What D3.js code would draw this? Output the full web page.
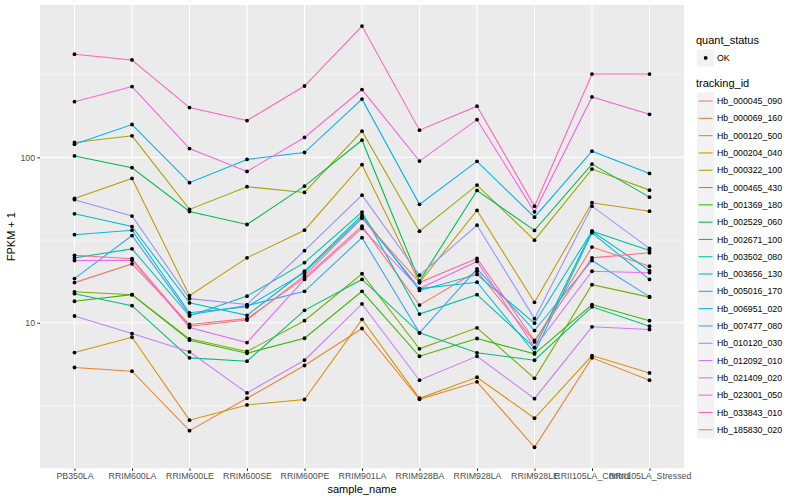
<!DOCTYPE html>
<html lang="en">
<head>
<meta charset="UTF-8">
<title>FPKM by sample</title>
<script src="https://d3js.org/d3.v7.min.js"></script>
<style>
    body { margin: 0; background: #fff; }
    svg text { font-family: "Liberation Sans", Arial, sans-serif; }
    .axis text { fill: #4d4d4d; font-size: 8.8px; }
    .axis line { stroke: #333; stroke-width: 1; }
    .axis path { display: none; }
</style>
</head>
<body>
<svg id="chart" width="800" height="500"></svg>
<script>
// samples on the x axis
const samples = ["PB350LA", "RRIM600LA", "RRIM600LE", "RRIM600SE", "RRIM600PE", "RRIM901LA",
                 "RRIM928BA", "RRIM928LA", "RRIM928LE", "RRII105LA_Control", "RRII105LA_Stressed"];

const trackingIds = ["Hb_000045_090", "Hb_000069_160", "Hb_000120_500", "Hb_000204_040", "Hb_000322_100",
                     "Hb_000465_430", "Hb_001369_180", "Hb_002529_060", "Hb_002671_100", "Hb_003502_080",
                     "Hb_003656_130", "Hb_005016_170", "Hb_006951_020", "Hb_007477_080", "Hb_010120_030",
                     "Hb_012092_010", "Hb_021409_020", "Hb_023001_050", "Hb_033843_010", "Hb_185830_020"];

// FPKM + 1, one value per sample
const hb000045_090 = [17.5, 22.7, 9.77, 10.6, 18.7, 38.4, 12.8, 20.5, 7.67, 28.7, 22.0];
const hb000069_160 = [5.37, 5.10, 2.23, 3.50, 5.52, 9.24, 3.45, 4.40, 1.77, 6.14, 4.50];
const hb000120_500 = [6.61, 8.18, 2.58, 3.19, 3.44, 10.5, 3.50, 4.69, 2.65, 6.34, 4.98];
const hb000204_040 = [56.5, 74.6, 14.6, 24.7, 36.3, 90.3, 17.5, 47.8, 13.3, 53.2, 47.3];
const hb000322_100 = [123, 135, 48.5, 66.5, 61.4, 144, 35.8, 68.0, 31.6, 85.0, 63.4];
const hb000465_430 = [15.4, 14.8, 8.0, 6.71, 10.3, 19.8, 6.96, 9.33, 4.62, 17.0, 14.3];
const hb001369_180 = [13.5, 14.8, 7.85, 6.55, 8.07, 15.5, 6.28, 8.04, 6.49, 12.9, 10.3];
const hb002529_060 = [102, 86.6, 47.1, 39.3, 67.0, 127, 17.9, 63.1, 36.2, 91.1, 57.5];
const hb002671_100 = [15.0, 12.7, 6.14, 5.86, 11.9, 18.3, 8.70, 6.59, 5.94, 12.5, 9.54];
const hb003502_080 = [24.7, 28.0, 11.0, 14.5, 23.1, 46.7, 11.3, 14.8, 7.09, 35.8, 27.4];
const hb003656_130 = [45.6, 38.2, 13.2, 11.1, 20.5, 44.8, 15.7, 19.6, 9.95, 35.8, 20.7];
const hb005016_170 = [34.1, 36.3, 11.5, 12.5, 20.1, 43.5, 16.1, 17.6, 6.59, 35.0, 18.3];
const hb006951_020 = [120, 158, 70.3, 97.2, 107, 225, 52.0, 94.6, 43.5, 109, 80.0];
const hb007477_080 = [18.5, 33.7, 11.2, 12.7, 15.5, 32.7, 8.70, 21.2, 8.98, 23.8, 14.4];
const hb010120_030 = [55.5, 44.2, 14.0, 12.9, 27.3, 59.1, 19.4, 38.9, 10.6, 50.7, 28.2];
const hb012092_010 = [11.0, 8.61, 6.68, 3.77, 5.94, 13.0, 4.50, 6.28, 3.48, 9.46, 9.11];
const hb021409_020 = [23.8, 23.9, 9.37, 7.60, 18.3, 37.2, 16.1, 23.5, 7.09, 20.5, 20.1];
const hb023001_050 = [217, 268, 113, 82.3, 132, 257, 95.0, 169, 46.9, 232, 182];
const hb033843_010 = [420, 388, 200, 167, 270, 622, 146, 204, 50.7, 319, 319];
const hb185830_020 = [25.6, 24.4, 9.54, 10.4, 19.3, 42.8, 17.5, 24.5, 7.82, 24.7, 26.5];

const seriesValues = [hb000045_090, hb000069_160, hb000120_500, hb000204_040, hb000322_100,
                      hb000465_430, hb001369_180, hb002529_060, hb002671_100, hb003502_080,
                      hb003656_130, hb005016_170, hb006951_020, hb007477_080, hb010120_030,
                      hb012092_010, hb021409_020, hb023001_050, hb033843_010, hb185830_020];

const yTicks = [10, 100];

// ggplot default hue palette for 20 levels
const palette = ["#F8766D", "#EA8331", "#D89000", "#C09B00", "#A3A500", "#7CAE00", "#39B600", "#00BB4E",
                 "#00BF7D", "#00C1A3", "#00BFC4", "#00BAE0", "#00B0F6", "#35A2FF", "#9590FF", "#C77CFF",
                 "#E76BF3", "#FA62DB", "#FF62BC", "#FF6C91"];

const series = trackingIds.map((id, i) => ({
    id: id,
    points: samples.map((s, j) => ({ sample: s, value: seriesValues[i][j] }))
}));

const svg = d3.select("#chart");
const panel = { left: 40, right: 684, top: 5, bottom: 468.3 };

const x = d3.scalePoint()
    .domain(samples)
    .range([panel.left, panel.right])
    .padding(0.6);

// log scale with ggplot's 5% expansion in log space
const allVals = seriesValues.flat();
const lo = Math.log10(d3.min(allVals)), hi = Math.log10(d3.max(allVals));
const pad = (hi - lo) * 0.05;
const y = d3.scaleLog()
    .domain([Math.pow(10, lo - pad), Math.pow(10, hi + pad)])
    .range([panel.bottom, panel.top]);

const color = d3.scaleOrdinal().domain(trackingIds).range(palette);

// panel background
svg.append("rect")
    .attr("x", panel.left).attr("y", panel.top)
    .attr("width", panel.right - panel.left)
    .attr("height", panel.bottom - panel.top)
    .attr("fill", "#ebebeb");

// minor gridlines halfway between decades
const [d0, d1] = y.domain().map(Math.log10);
const minor = d3.range(Math.floor(d0) - 0.5, Math.ceil(d1) + 1, 1)
    .map(e => Math.pow(10, e))
    .filter(v => v > y.domain()[0] && v < y.domain()[1]);
svg.append("g").selectAll("line")
    .data(minor)
    .join("line")
    .attr("x1", panel.left).attr("x2", panel.right)
    .attr("y1", d => y(d)).attr("y2", d => y(d))
    .attr("stroke", "#fff").attr("stroke-width", 0.53);

svg.append("g").selectAll("line")
    .data(yTicks)
    .join("line")
    .attr("x1", panel.left).attr("x2", panel.right)
    .attr("y1", d => y(d)).attr("y2", d => y(d))
    .attr("stroke", "#fff").attr("stroke-width", 1.07);

svg.append("g").selectAll("line")
    .data(samples)
    .join("line")
    .attr("x1", d => x(d)).attr("x2", d => x(d))
    .attr("y1", panel.top).attr("y2", panel.bottom)
    .attr("stroke", "#fff").attr("stroke-width", 1.07);

// lines
const line = d3.line()
    .x(d => x(d.sample))
    .y(d => y(d.value));

svg.append("g").selectAll("path")
    .data(series)
    .join("path")
    .attr("d", d => line(d.points))
    .attr("fill", "none")
    .attr("stroke", d => color(d.id))
    .attr("stroke-width", 1.07);

// points
svg.append("g").selectAll("circle")
    .data(series.flatMap(d => d.points))
    .join("circle")
    .attr("cx", d => x(d.sample))
    .attr("cy", d => y(d.value))
    .attr("r", 1.9)
    .attr("fill", "#000");

// axes
svg.append("g")
    .attr("class", "axis")
    .attr("transform", `translate(${panel.left},0)`)
    .call(d3.axisLeft(y).tickValues(yTicks).tickFormat(d3.format("d")).tickSize(2.7).tickPadding(2.2));

svg.append("g")
    .attr("class", "axis")
    .attr("transform", `translate(0,${panel.bottom})`)
    .call(d3.axisBottom(x).tickSize(2.7).tickPadding(2.2));

svg.append("text")
    .attr("x", (panel.left + panel.right) / 2)
    .attr("y", 493)
    .attr("text-anchor", "middle")
    .attr("font-size", 11)
    .text("sample_name");

svg.append("text")
    .attr("transform", `translate(15,${(panel.top + panel.bottom) / 2}) rotate(-90)`)
    .attr("text-anchor", "middle")
    .attr("font-size", 11)
    .text("FPKM + 1");

// legends
const lg = svg.append("g").attr("transform", "translate(697,0)");

lg.append("text").attr("x", -1).attr("y", 44).attr("font-size", 11).text("quant_status");
lg.append("rect").attr("x", 0).attr("y", 49.3).attr("width", 17.3).attr("height", 17.3).attr("fill", "#f2f2f2");
lg.append("circle").attr("cx", 8.65).attr("cy", 57.9).attr("r", 1.9).attr("fill", "#000");
lg.append("text").attr("x", 20).attr("y", 61).attr("font-size", 8.8).text("OK");

lg.append("text").attr("x", -1).attr("y", 87).attr("font-size", 11).text("tracking_id");

const keys = lg.append("g").selectAll("g")
    .data(trackingIds)
    .join("g")
    .attr("transform", (d, i) => `translate(0,${92.4 + i * 17.3})`);

keys.append("rect")
    .attr("width", 17.3).attr("height", 17.3)
    .attr("fill", "#f2f2f2");

keys.append("line")
    .attr("x1", 1.7).attr("x2", 15.6)
    .attr("y1", 8.65).attr("y2", 8.65)
    .attr("stroke", d => color(d))
    .attr("stroke-width", 1.07);

keys.append("text")
    .attr("x", 20).attr("y", 11.8)
    .attr("font-size", 8.8)
    .text(d => d);
</script>
</body>
</html>
